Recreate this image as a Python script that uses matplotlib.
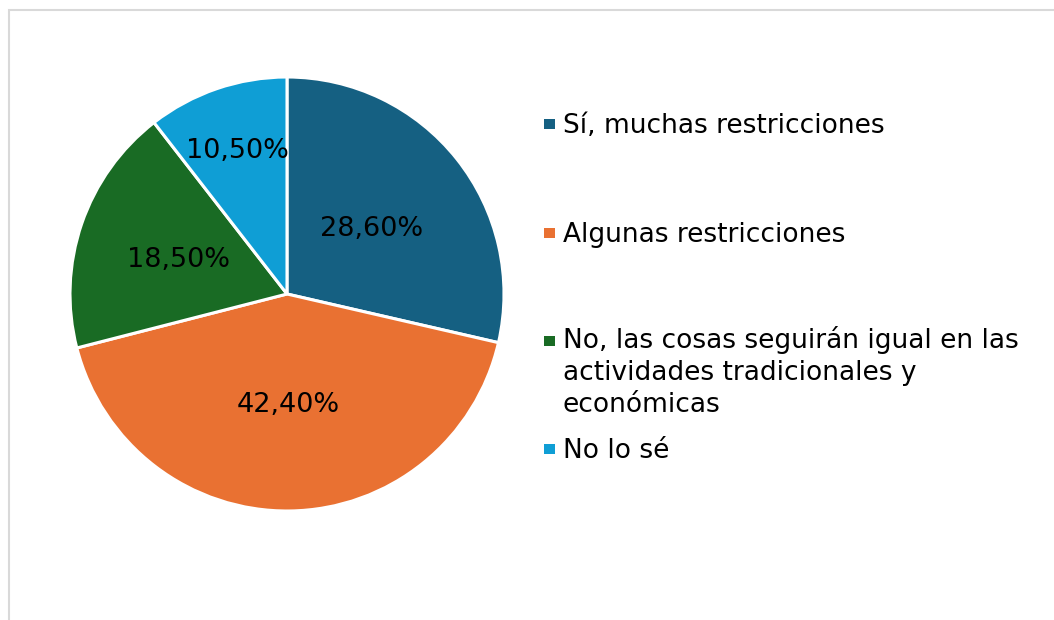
import numpy as np
import matplotlib
matplotlib.use('Agg')
from matplotlib import pyplot as plt
from matplotlib.patches import Rectangle

# chart data
categories = ['Sí, muchas restricciones',
              'Algunas restricciones',
              'No, las cosas seguirán igual en las\nactividades tradicionales y\neconómicas',
              'No lo sé']
values = [28.6, 42.4, 18.5, 10.5]
value_labels = ['28,60%', '42,40%', '18,50%', '10,50%']
colors = ['#156082', '#E97132', '#196B24', '#0F9ED5']

W, H = 1054, 620
fig = plt.figure(figsize=(W / 100, H / 100), dpi=100)
plt.rcParams['font.family'] = ['DejaVu Sans']

# light grey chart frame (runs off the right/bottom edge)
fig.add_artist(Rectangle((9 / W, -0.05), 1.1, (H - 9.5) / H + 0.05, transform=fig.transFigure,
                         fill=False, edgecolor='#D9D9D9', linewidth=1.5))

# pie: centre (287, 294) px, radius 217 px
cx, cy, r = 287, 294, 217
ax = fig.add_axes([(cx - r) / W, (H - cy - r) / H, 2 * r / W, 2 * r / H])
wedges, _ = ax.pie(values, colors=colors, startangle=90, counterclock=False,
                   wedgeprops=dict(edgecolor='white', linewidth=2.2))
ax.set_xlim(-1, 1)
ax.set_ylim(-1, 1)
ax.set_aspect('equal')
ax.axis('off')

label_dist = [0.5, 0.50, 0.53, 0.71]
for w, txt, d in zip(wedges, value_labels, label_dist):
    ang = np.deg2rad((w.theta1 + w.theta2) / 2)
    ax.text(d * np.cos(ang), d * np.sin(ang), txt, ha='center', va='center_baseline',
            fontsize=19.5, color='black')

# legend, drawn by hand to keep Excel-like spacing
first_baseline = [133, 242, 350, 458]   # px from top, first line of each entry
line_step = 31
for y, lab, c in zip(first_baseline, categories, colors):
    n = lab.count('\n')
    fig.add_artist(Rectangle((544 / W, (H - y + 4) / H), 11 / W, 10 / H,
                             transform=fig.transFigure, facecolor=c, edgecolor='none'))
    # va='baseline' uses the last line, so shift down by the extra lines
    fig.text(563 / W, (H - y - n * line_step) / H, lab, ha='left', va='baseline',
             fontsize=19, color='black', linespacing=1.30)

fig.savefig('out.png', dpi=100)
